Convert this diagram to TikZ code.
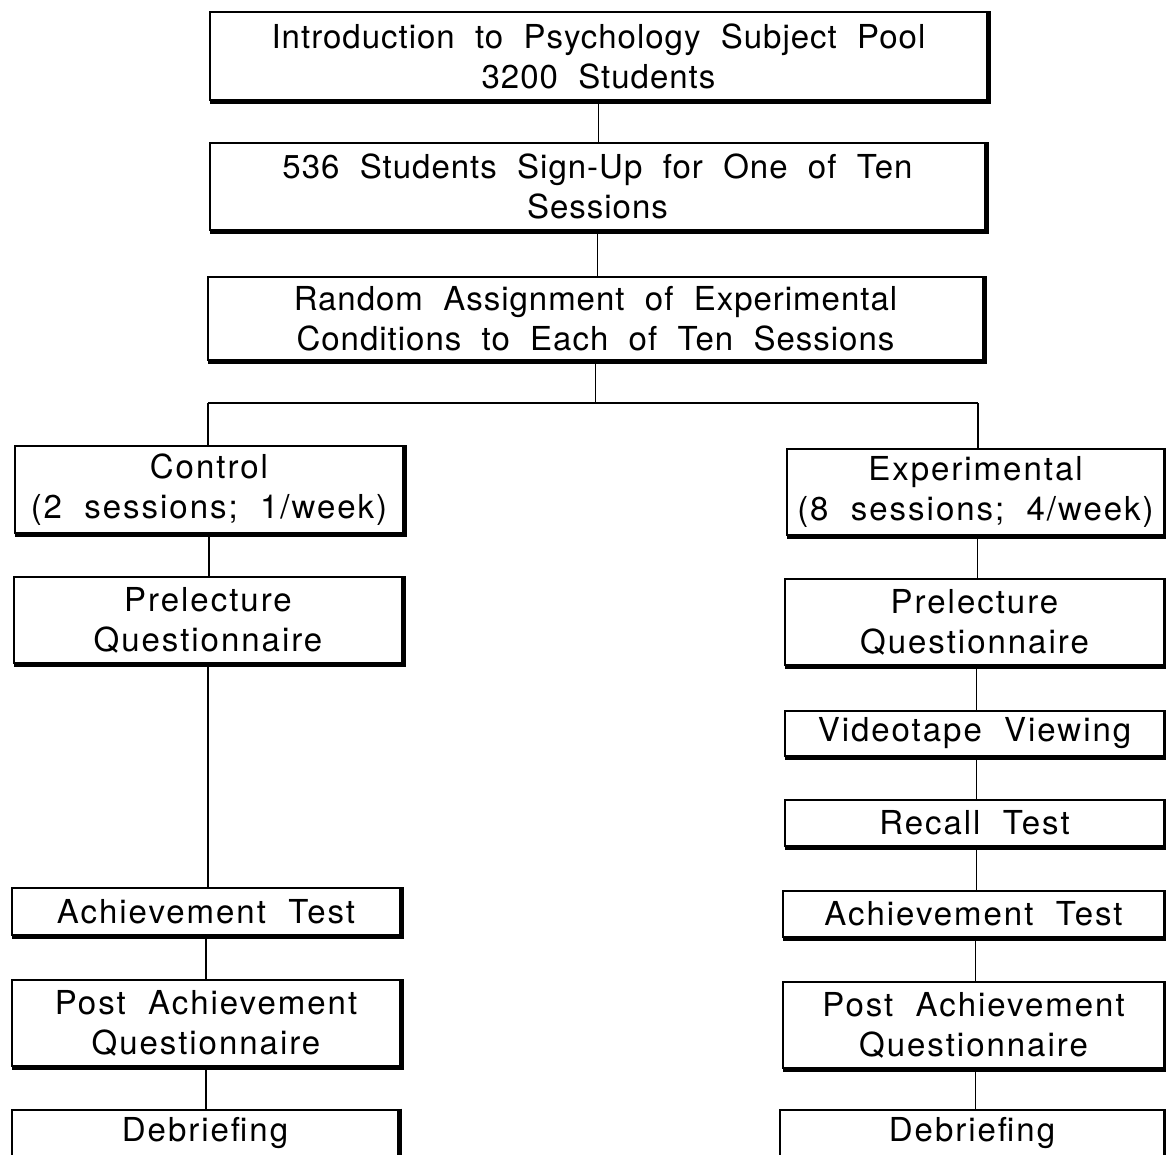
\documentclass[tikz,border=0pt]{standalone}
\usepackage{fontspec}
\setmainfont{TeX Gyre Heros}[WordSpace=2, LetterSpace=3]
\newfontfamily\widefont{TeX Gyre Heros}[WordSpace=2, LetterSpace=6]
\begin{document}
\begin{tikzpicture}[x=1pt,y=-1pt,
  box/.style={draw=black, line width=2.6pt, inner sep=0pt, align=center,
    font=\fontsize{33}{40}\selectfont, fill=white},
  wbox/.style={box, font=\widefont\fontsize{33}{40}\selectfont},
  link/.style={draw=black, line width=1.8pt},
  heavy/.style={draw=black, line width=4.5pt}]
\useasboundingbox (0,0) rectangle (1166,1154);
\fill[white] (0,0) rectangle (1166,1154);
\node[box, minimum width=777pt, minimum height=88pt] (b1) at (598.5,56) {Introduction to Psychology Subject Pool\\3200 Students};
\node[box, minimum width=775pt, minimum height=87pt] (b2) at (597.5,186.5) {536 Students Sign-Up for One of Ten\\Sessions};
\node[box, minimum width=775pt, minimum height=83pt] (b3) at (595.5,318.5) {Random Assignment of Experimental\\Conditions to Each of Ten Sessions};
\node[wbox, minimum width=388pt, minimum height=87pt] (ctrl) at (209,489.5) {Control\\(2 sessions; 1/week)};
\node[wbox, minimum width=377pt, minimum height=86pt] (exp) at (975.5,492) {Experimental\\(8 sessions; 4/week)};
\node[wbox, minimum width=388pt, minimum height=86pt] (preL) at (208,620) {Prelecture\\Questionnaire};
\node[wbox, minimum width=379pt, minimum height=86pt] (preR) at (974.5,622) {Prelecture\\Questionnaire};
\node[wbox, minimum width=379pt, minimum height=45pt] (video) at (974.5,733.5) {Videotape Viewing};
\node[wbox, minimum width=379pt, minimum height=46pt] (recall) at (974.5,823) {Recall Test};
\node[wbox, minimum width=381pt, minimum height=46pt] (achR) at (973.5,914) {Achievement Test};
\node[wbox, minimum width=388pt, minimum height=47pt] (achL) at (206,911.5) {Achievement Test};
\node[wbox, minimum width=388pt, minimum height=86pt] (postL) at (206,1023) {Post Achievement\\Questionnaire};
\node[wbox, minimum width=381pt, minimum height=86pt] (postR) at (973.5,1025) {Post Achievement\\Questionnaire};
\node[wbox, minimum width=386pt, minimum height=46pt] (debL) at (205,1133) {Debriefing};
\node[wbox, minimum width=384pt, minimum height=46pt] (debR) at (972,1133) {Debriefing};
% heavier bottom and right edges
\foreach \n in {b1,b2,b3,ctrl,exp,preL,preR,video,recall,achR,achL,postL,postR}{
  \draw[heavy] ([xshift=1pt]\n.south west) -- (\n.south east) -- (\n.north east);
}
\draw[heavy] (debL.north east) -- (debL.south east);
\draw[heavy] (debR.north east) -- (debR.south east);
% connectors
\coordinate (split) at (595.5,403);
\coordinate (splitL) at (208,403);
\coordinate (splitR) at (978,403);
\draw[link] (b1.south) -- (b1.south |- b2.north);
\draw[link] (b2.south) -- (b2.south |- b3.north);
\draw[link] (b3.south) -- (split);
\draw[link] (splitL) -- (splitR);
\draw[link] (splitL) -- (splitL |- ctrl.north);
\draw[link] (splitR) -- (splitR |- exp.north);
\draw[link] (ctrl.south) -- (ctrl.south |- preL.north);
\draw[link] (preL.south) -- (preL.south |- achL.north);
\draw[link] (achL.south) -- (achL.south |- postL.north);
\draw[link] (postL.south) -- (postL.south |- debL.north);
\draw[link] ([xshift=2pt]exp.south) -- ([xshift=2pt]exp.south |- preR.north);
\draw[link] ([xshift=2pt]preR.south) -- ([xshift=2pt]preR.south |- video.north);
\draw[link] ([xshift=2pt]video.south) -- ([xshift=2pt]video.south |- recall.north);
\draw[link] ([xshift=2pt]recall.south) -- ([xshift=2pt]recall.south |- achR.north);
\draw[link] ([xshift=2pt]achR.south) -- ([xshift=2pt]achR.south |- postR.north);
\draw[link] ([xshift=2pt]postR.south) -- ([xshift=2pt]postR.south |- debR.north);
\end{tikzpicture}
\end{document}
